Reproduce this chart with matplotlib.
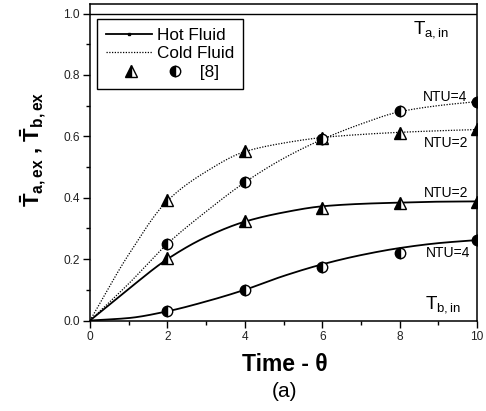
import numpy as np
import matplotlib
matplotlib.use("Agg")
import matplotlib.pyplot as plt
from matplotlib.lines import Line2D
from matplotlib.legend_handler import HandlerBase

plt.rcParams["font.family"] = ["Liberation Sans", "DejaVu Sans"]
plt.rcParams["mathtext.fontset"] = "custom"
plt.rcParams["mathtext.rm"] = "Liberation Sans"
plt.rcParams["mathtext.bf"] = "Liberation Sans:bold"
plt.rcParams["mathtext.it"] = "Liberation Sans:italic"

# ---- model curves (dimensionless time) ----
t_model = [0, 1, 2, 3, 4, 5, 6, 7, 8, 9, 10]
hot_ntu2 = [0, 0.103, 0.200, 0.272, 0.322, 0.352, 0.372, 0.380, 0.384, 0.387, 0.388]
hot_ntu4 = [0, 0.008, 0.030, 0.062, 0.100, 0.145, 0.183, 0.213, 0.236, 0.252, 0.262]
cold_ntu2 = [0, 0.215, 0.390, 0.485, 0.550, 0.578, 0.596, 0.606, 0.613, 0.618, 0.622]
cold_ntu4 = [0, 0.120, 0.250, 0.355, 0.450, 0.528, 0.590, 0.640, 0.680, 0.700, 0.713]

# ---- reference data [8] ----
t_ref = [2, 4, 6, 8, 10]
hot_ntu2_ref = [0.203, 0.324, 0.365, 0.384, 0.387]
hot_ntu4_ref = [0.030, 0.099, 0.173, 0.221, 0.262]
cold_ntu2_ref = [0.393, 0.552, 0.595, 0.612, 0.623]
cold_ntu4_ref = [0.249, 0.450, 0.591, 0.682, 0.713]

xticks = [0, 2, 4, 6, 8, 10]
yticks = [0.0, 0.2, 0.4, 0.6, 0.8, 1.0]


def pchip(x, y, xs):
    """Monotone cubic Hermite interpolation (Fritsch-Carlson)."""
    x = np.asarray(x, float)
    y = np.asarray(y, float)
    h = np.diff(x)
    d = np.diff(y) / h
    m = np.zeros_like(y)
    m[0], m[-1] = d[0], d[-1]
    for k in range(1, len(x) - 1):
        if d[k - 1] * d[k] > 0:
            w1 = 2 * h[k] + h[k - 1]
            w2 = h[k] + 2 * h[k - 1]
            m[k] = (w1 + w2) / (w1 / d[k - 1] + w2 / d[k])
    idx = np.clip(np.searchsorted(x, xs) - 1, 0, len(x) - 2)
    s = (xs - x[idx]) / h[idx]
    h00 = 2 * s**3 - 3 * s**2 + 1
    h10 = s**3 - 2 * s**2 + s
    h01 = -2 * s**3 + 3 * s**2
    h11 = s**3 - s**2
    return (h00 * y[idx] + h10 * h[idx] * m[idx]
            + h01 * y[idx + 1] + h11 * h[idx] * m[idx + 1])


class MarkerPairHandler(HandlerBase):
    """Legend entry showing two marker styles side by side."""

    def __init__(self, offsets, **kw):
        super().__init__(**kw)
        self.offsets = offsets

    def create_artists(self, legend, orig_handle, xdescent, ydescent,
                       width, height, fontsize, trans):
        y = height / 2 - ydescent
        arts = []
        for h, f in zip(orig_handle, self.offsets):
            a = Line2D([f * width - xdescent], [y])
            a.update_from(h)
            a.set_transform(trans)
            arts.append(a)
        return arts


fig = plt.figure(figsize=(4.86, 4.11), dpi=100)
ax = fig.add_axes([90 / 486, 1 - 320.5 / 411, 387 / 486, 316.5 / 411])

ts = np.linspace(0, 10, 400)
hot_kw = dict(color="black", lw=1.3, ls="-")
cold_kw = dict(color="black", lw=0.9, ls=(0, (1, 1.2)))
ax.plot(ts, pchip(t_model, hot_ntu2, ts), **hot_kw)
ax.plot(ts, pchip(t_model, hot_ntu4, ts), **hot_kw)
ax.plot(ts, pchip(t_model, cold_ntu2, ts), **cold_kw)
ax.plot(ts, pchip(t_model, cold_ntu4, ts), **cold_kw)

tri_kw = dict(ls="none", marker="^", ms=8.5, fillstyle="left", mfc="black",
              mfcalt="white", mec="black", mew=1.0)
circ_kw = dict(ls="none", marker="o", ms=7.5, fillstyle="left", mfc="black",
               mfcalt="white", mec="black", mew=1.0)
ax.plot(t_ref, hot_ntu2_ref, zorder=3, **tri_kw)
ax.plot(t_ref, cold_ntu2_ref, zorder=3, **tri_kw)
ax.plot(t_ref, hot_ntu4_ref, zorder=3, **circ_kw)
ax.plot(t_ref, cold_ntu4_ref, zorder=3, **circ_kw)

# inlet temperature of the hot stream
ax.axhline(1.0, color="black", lw=1.0)

ax.set_xlim(0, 10)
ax.set_ylim(0, 1.031)
ax.set_xticks(xticks)
ax.set_xticklabels([str(v) for v in xticks])
ax.set_yticks(yticks)
ax.set_yticklabels([f"{v:.1f}" for v in yticks])
ax.set_xticks(np.arange(1, 10, 2), minor=True)
ax.set_yticks(np.arange(0.1, 1.0, 0.2), minor=True)
ax.tick_params(which="major", direction="out", length=5, width=1.0,
               labelsize=8.6, pad=2.5, colors="black", labelcolor="#222222")
ax.tick_params(which="minor", direction="out", length=3, width=1.0)
for s in ax.spines.values():
    s.set_linewidth(1.1)

ax.set_xlabel(r"Time - θ", fontsize=16.5, fontweight="bold")
ax.xaxis.set_label_coords(0.5026, -0.1596)
ax.xaxis.label.set_va("baseline")
ax.text(0.5026, -0.2413, "(a)", transform=ax.transAxes, ha="center",
        va="baseline", fontsize=15)

ax.set_ylabel(r"$\mathbf{\bar{T}_{a,ex}}$ , $\mathbf{\bar{T}_{b,ex}}$",
              fontsize=16, fontweight="bold")
ax.yaxis.set_label_coords(-0.108, 0.54)

ax.text(8.35, 0.936, r"$\mathrm{T}_{\mathrm{a,in}}$", fontsize=13.5,
        va="baseline", ha="left")
ax.text(8.66, 0.040, r"$\mathrm{T}_{\mathrm{b,in}}$", fontsize=13.5,
        va="baseline", ha="left")
ntu_fs = 10
ax.text(8.6, 0.728, "NTU=4", fontsize=ntu_fs, va="center", ha="left")
ax.text(8.63, 0.578, "NTU=2", fontsize=ntu_fs, va="center", ha="left")
ax.text(8.63, 0.415, "NTU=2", fontsize=ntu_fs, va="center", ha="left")
ax.text(8.68, 0.220, "NTU=4", fontsize=ntu_fs, va="center", ha="left")

h_hot = Line2D([], [], color="black", lw=1.3, marker="s", ms=2)
h_cold = Line2D([], [], **cold_kw)
h_tri = Line2D([], [], **tri_kw)
h_circ = Line2D([], [], **circ_kw)
leg = ax.legend([h_hot, h_cold, (h_tri, h_circ)],
                ["Hot Fluid", "Cold Fluid", "         [8]"],
                handler_map={tuple: MarkerPairHandler([0.56, 1.5])},
                loc="upper left", bbox_to_anchor=(0.018, 0.9526),
                borderaxespad=0, fontsize=12.3, handlelength=2.7,
                handletextpad=0.3, borderpad=0.5, labelspacing=0.22,
                fancybox=False, edgecolor="black", framealpha=1)
leg.get_frame().set_linewidth(1.0)

fig.savefig("out.png", dpi=100)
